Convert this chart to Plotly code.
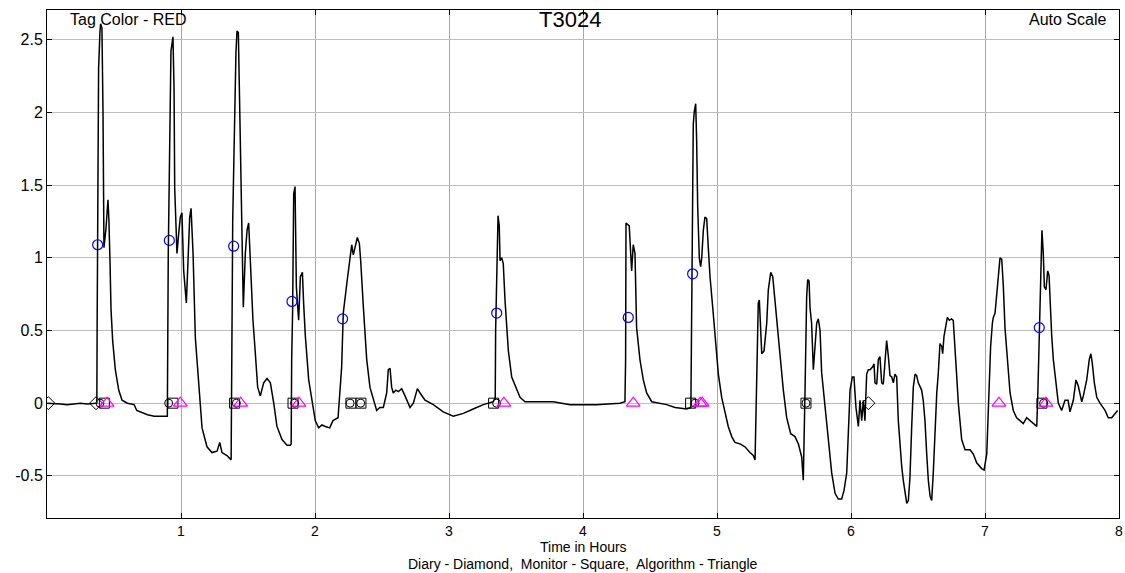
import plotly.graph_objects as go

# ---------------- data (time in hours, signal) ----------------
seg1_t = [0.0, 0.05, 0.1, 0.15, 0.2, 0.25, 0.3, 0.35, 0.372,
          0.374, 0.378, 0.385, 0.395, 0.400, 0.410, 0.418, 0.425, 0.440, 0.455, 0.462, 0.470,
          0.478, 0.49, 0.51, 0.535, 0.56, 0.6, 0.65, 0.67, 0.70, 0.75, 0.80, 0.85, 0.895]
seg1_y = [0.0, 0.0, -0.005, -0.01, -0.005, 0.0, -0.005, 0.0, 0.0,
          0.5, 1.5, 2.3, 2.55, 2.61, 2.58, 2.0, 1.07, 1.20, 1.40, 1.26, 0.98,
          0.64, 0.43, 0.23, 0.09, 0.02, 0.0, -0.01, -0.05, -0.06, -0.08, -0.09, -0.09, -0.09]

seg2_t = [0.898, 0.905, 0.925, 0.94, 0.948, 0.953, 0.970, 0.983, 0.995, 1.007, 1.02, 1.04,
          1.05, 1.065, 1.075, 1.09, 1.107, 1.132, 1.157, 1.194, 1.231, 1.269, 1.289, 1.306,
          1.343, 1.374]
seg2_y = [-0.09, 1.03, 2.42, 2.52, 2.17, 1.48, 1.03, 1.17, 1.28, 1.31, 0.91, 0.69,
          0.98, 1.28, 1.34, 1.03, 0.45, 0.11, -0.17, -0.30, -0.34, -0.33, -0.27, -0.34,
          -0.36, -0.39]

seg3_t = [1.378, 1.386, 1.41, 1.418, 1.428, 1.438, 1.455, 1.465, 1.48, 1.493, 1.505, 1.517,
          1.537, 1.555, 1.572, 1.592, 1.617, 1.642, 1.667, 1.692, 1.716, 1.754, 1.791, 1.816,
          1.822]
seg3_y = [0.2, 1.26, 2.41, 2.56, 2.55, 1.95, 1.26, 0.66, 1.03, 1.19, 1.24, 0.95,
          0.57, 0.34, 0.11, 0.05, 0.14, 0.17, 0.14, 0.0, -0.16, -0.25, -0.29, -0.29,
          -0.28]

seg4_t = [1.826, 1.833, 1.841, 1.851, 1.861, 1.878, 1.891, 1.906, 1.915, 1.928, 1.953, 1.978,
          2.002, 2.027, 2.052, 2.077, 2.11, 2.134, 2.172]
seg4_y = [0.3, 0.64, 1.44, 1.49, 0.80, 0.57, 0.87, 0.90, 0.69, 0.46, 0.16, 0.0,
          -0.12, -0.17, -0.15, -0.16, -0.17, -0.12, -0.10]

seg5_t = [2.199, 2.211, 2.237, 2.261, 2.274, 2.286, 2.299, 2.316, 2.331, 2.341, 2.361, 2.386,
          2.41, 2.435, 2.46, 2.485, 2.51, 2.535, 2.547, 2.56, 2.572, 2.584, 2.604, 2.622,
          2.647, 2.672, 2.709, 2.734, 2.764, 2.784, 2.821, 2.883, 2.957, 3.032, 3.107, 3.181,
          3.256, 3.331, 3.345]
seg5_y = [0.25, 0.62, 0.82, 1.0, 1.09, 1.02, 1.08, 1.14, 1.10, 0.98, 0.66, 0.30,
          0.11, 0.02, -0.05, -0.03, -0.03, 0.07, 0.23, 0.24, 0.11, 0.07, 0.09, 0.08,
          0.10, 0.05, -0.03, 0.0, 0.10, 0.07, 0.02, -0.01, -0.06, -0.09, -0.07, -0.04,
          -0.01, 0.01, 0.04]

seg6_t = [3.348, 3.36, 3.366, 3.375, 3.381, 3.393, 3.405, 3.418, 3.443, 3.468, 3.505, 3.53,
          3.567, 3.778, 3.903, 4.1, 4.276, 4.313]
seg6_y = [0.5, 1.2, 1.29, 1.22, 0.98, 1.0, 0.96, 0.71, 0.36, 0.18, 0.09, 0.04,
          0.01, 0.01, -0.01, -0.01, 0.0, 0.01]

seg7_t = [4.318, 4.321, 4.345, 4.357, 4.363, 4.375, 4.388, 4.40, 4.425, 4.45, 4.475, 4.513,
          4.575, 4.624, 4.687, 4.774, 4.805]
seg7_y = [0.3, 1.24, 1.22, 1.0, 0.91, 1.09, 1.03, 0.52, 0.30, 0.16, 0.07, 0.01,
          0.0, -0.01, -0.03, -0.04, -0.03]

seg8_t = [4.81, 4.819, 4.823, 4.831, 4.841, 4.848, 4.856, 4.868, 4.878, 4.886, 4.898, 4.91,
          4.923, 4.935, 4.948, 4.968, 4.985, 5.01, 5.035, 5.06, 5.084, 5.11, 5.134, 5.172,
          5.209, 5.246, 5.271, 5.284]
seg8_y = [0.5, 1.24, 1.92, 2.01, 2.06, 1.81, 1.35, 1.0, 0.94, 1.0, 1.19, 1.28,
          1.27, 1.07, 0.87, 0.66, 0.45, 0.2, 0.04, -0.07, -0.16, -0.23, -0.27, -0.28,
          -0.30, -0.34, -0.36, -0.39]

seg9_t = [5.296, 5.308, 5.316, 5.326, 5.334, 5.351, 5.371, 5.383, 5.401, 5.416, 5.433, 5.45,
          5.47, 5.495, 5.52, 5.55, 5.582, 5.607, 5.632, 5.644]
seg9_y = [0.09, 0.69, 0.71, 0.50, 0.34, 0.36, 0.55, 0.78, 0.90, 0.87, 0.71, 0.5,
          0.32, 0.09, -0.1, -0.21, -0.23, -0.28, -0.37, -0.53]

seg10_t = [5.657, 5.669, 5.677, 5.687, 5.694, 5.706, 5.719, 5.731, 5.744, 5.756, 5.769, 5.781,
           5.806, 5.831, 5.856, 5.881, 5.905, 5.93, 5.948, 5.968, 5.98, 5.993, 6.01, 6.022,
           6.037, 6.055, 6.067, 6.08, 6.092, 6.104, 6.117]
seg10_y = [0.09, 0.73, 0.85, 0.84, 0.66, 0.55, 0.23, 0.41, 0.55, 0.58, 0.5, 0.21,
           -0.03, -0.25, -0.48, -0.62, -0.66, -0.66, -0.6, -0.48, -0.25, 0.09, 0.18, 0.18,
           -0.03, -0.16, 0.02, -0.12, 0.02, -0.12, 0.2]

seg11_t = [6.129, 6.142, 6.162, 6.172, 6.179, 6.192, 6.204, 6.216, 6.229, 6.241, 6.254, 6.266,
           6.278, 6.291, 6.304, 6.316, 6.328, 6.341, 6.353, 6.366, 6.378, 6.39, 6.403, 6.416,
           6.428, 6.44, 6.453, 6.465, 6.478, 6.49, 6.502, 6.527, 6.539, 6.552, 6.565, 6.577,
           6.59, 6.602, 6.614, 6.627, 6.64, 6.651, 6.664, 6.677, 6.684, 6.694, 6.709, 6.719,
           6.734, 6.75, 6.763, 6.776, 6.788, 6.801, 6.826, 6.851, 6.888, 6.913, 6.938, 6.975,
           6.993, 7.013]
seg11_y = [0.23, 0.23, 0.25, 0.27, 0.14, 0.13, 0.30, 0.32, 0.14, 0.13, 0.33, 0.43,
           0.33, 0.19, 0.18, 0.14, 0.20, 0.18, -0.12, -0.30, -0.43, -0.53, -0.62, -0.69,
           -0.67, -0.51, -0.16, 0.11, 0.20, 0.19, 0.14, 0.09, 0.02, -0.12, -0.35, -0.53,
           -0.64, -0.67, -0.48, -0.16, 0.07, 0.2, 0.41, 0.39, 0.34, 0.46, 0.55, 0.59,
           0.57, 0.58, 0.57, 0.41, 0.2, 0.0, -0.25, -0.32, -0.32, -0.35, -0.41, -0.45,
           -0.46, -0.35]

seg12_t = [7.025, 7.042, 7.055, 7.062, 7.075, 7.087, 7.1, 7.112, 7.125, 7.137, 7.149, 7.162,
           7.187, 7.211, 7.236, 7.261, 7.286, 7.311, 7.336, 7.361, 7.386, 7.393, 7.405, 7.418,
           7.425, 7.435, 7.443, 7.455, 7.468, 7.478, 7.485, 7.498, 7.51, 7.53, 7.547, 7.572,
           7.597, 7.62, 7.634, 7.659, 7.679, 7.696, 7.722, 7.734, 7.759, 7.778, 7.79, 7.80,
           7.816, 7.834, 7.858, 7.896, 7.92, 7.945, 7.97, 7.99]
seg12_y = [-0.03, 0.39, 0.55, 0.59, 0.62, 0.73, 0.85, 1.0, 0.99, 0.80, 0.52, 0.34,
           0.07, -0.05, -0.1, -0.12, -0.14, -0.1, -0.12, -0.14, -0.16, 0.02, 0.52, 1.05,
           1.19, 1.03, 0.80, 0.78, 0.91, 0.88, 0.69, 0.46, 0.30, 0.11, 0.0, -0.05,
           0.02, 0.02, -0.06, 0.02, 0.16, 0.12, 0.01, 0.05, 0.16, 0.30, 0.34, 0.28,
           0.14, 0.04, 0.0, -0.05, -0.1, -0.1, -0.07, -0.05]

# event markers
peak_t = [0.378, 0.913, 1.393, 1.828, 2.206, 3.356, 4.338, 4.818, 7.405]
peak_v = [1.09, 1.12, 1.08, 0.70, 0.58, 0.62, 0.59, 0.89, 0.52]
diary_t = [0.01, 0.366, 6.13]
monitor_t = [0.428, 0.940, 1.400, 1.836, 2.268, 2.343, 3.333, 4.803, 5.664, 7.425]
onset_t = [0.395, 0.908, 1.413, 1.848, 2.262, 2.341, 3.355, 4.836, 5.664, 7.437]
algo_t = [0.448, 0.995, 1.445, 1.880, 3.41, 4.375, 4.875, 4.89, 7.104, 7.455]
event_level = 0.0

x_ticks = [1, 2, 3, 4, 5, 6, 7, 8]
y_ticks = [-0.5, 0, 0.5, 1, 1.5, 2, 2.5]
y_tick_text = ["-0.5", "0", "0.5", "1", "1.5", "2", "2.5"]

time_h = (seg1_t + seg2_t + seg3_t + seg4_t + seg5_t + seg6_t + seg7_t + seg8_t
          + seg9_t + seg10_t + seg11_t + seg12_t)
signal = (seg1_y + seg2_y + seg3_y + seg4_y + seg5_y + seg6_y + seg7_y + seg8_y
          + seg9_y + seg10_y + seg11_y + seg12_y)

FONT = "Liberation Sans, Arial, sans-serif"

fig = go.Figure()
fig.add_trace(go.Scatter(x=time_h, y=signal, mode="lines",
                         line=dict(color="black", width=1.5), showlegend=False))
fig.add_trace(go.Scatter(x=peak_t, y=peak_v, mode="markers", showlegend=False,
                         marker=dict(symbol="circle-open", size=10, color="#0000FF",
                                     line=dict(width=1.2, color="#0000FF"))))
fig.add_trace(go.Scatter(x=monitor_t, y=[event_level] * len(monitor_t), mode="markers",
                         showlegend=False,
                         marker=dict(symbol="square-open", size=10, color="black",
                                     line=dict(width=1, color="black"))))
fig.add_trace(go.Scatter(x=onset_t, y=[event_level] * len(onset_t), mode="markers",
                         showlegend=False,
                         marker=dict(symbol="circle-open", size=8, color="black",
                                     line=dict(width=1, color="black"))))
fig.add_trace(go.Scatter(x=diary_t, y=[event_level] * len(diary_t), mode="markers",
                         showlegend=False,
                         marker=dict(symbol="diamond-open", size=10, color="black",
                                     line=dict(width=1, color="black"))))
fig.add_trace(go.Scatter(x=algo_t, y=[event_level] * len(algo_t), mode="markers",
                         showlegend=False,
                         marker=dict(symbol="triangle-up-open", size=12, color="#FF00FF",
                                     line=dict(width=1.2, color="#FF00FF"))))

axis_common = dict(showline=True, linecolor="black", linewidth=1, mirror="ticks",
                   ticks="inside", ticklen=5, tickcolor="black", zeroline=False,
                   showgrid=True, gridwidth=1)

fig.update_xaxes(range=[0, 8], tickvals=x_ticks, ticktext=[str(v) for v in x_ticks],
                 gridcolor="#a8a8a8", tickfont=dict(family=FONT, size=14, color="black"),
                 **axis_common)
fig.update_yaxes(range=[-0.79, 2.705], tickvals=y_ticks, ticktext=y_tick_text,
                 gridcolor="#bdbdbd", tickfont=dict(family=FONT, size=16, color="black"),
                 **axis_common)

fig.add_annotation(text="Tag Color - RED", xref="paper", yref="paper", x=0.0196, y=0.982,
                   xanchor="left", yanchor="middle", showarrow=False,
                   font=dict(family=FONT, size=16, color="black"))
fig.add_annotation(text="T3024", xref="paper", yref="paper", x=0.488, y=0.982,
                   xanchor="center", yanchor="middle", showarrow=False,
                   font=dict(family=FONT, size=22, color="black"))
fig.add_annotation(text="Auto Scale", xref="paper", yref="paper", x=0.9897, y=0.982,
                   xanchor="right", yanchor="middle", showarrow=False,
                   font=dict(family=FONT, size=16, color="black"))
fig.add_annotation(text="Time in Hours", xref="paper", yref="paper", x=0.5, y=-0.058,
                   xanchor="center", yanchor="middle", showarrow=False,
                   font=dict(family=FONT, size=14, color="black"))
fig.add_annotation(text="Diary - Diamond,&nbsp; Monitor - Square,&nbsp; Algorithm - Triangle",
                   xref="paper", yref="paper", x=0.5, y=-0.090,
                   xanchor="center", yanchor="middle", showarrow=False,
                   font=dict(family=FONT, size=14, color="black"))

fig.update_layout(width=1125, height=573,
                  margin=dict(l=47, r=6, t=10, b=55, autoexpand=False),
                  plot_bgcolor="white", paper_bgcolor="white", showlegend=False,
                  font=dict(family=FONT, color="black"))

# remove the browser's default 8px body margin so the 1125x573 figure fills the window
fig.write_html("out.html", config={"displayModeBar": False},
               post_script="document.body.style.margin='0';document.body.style.overflow='hidden';")
